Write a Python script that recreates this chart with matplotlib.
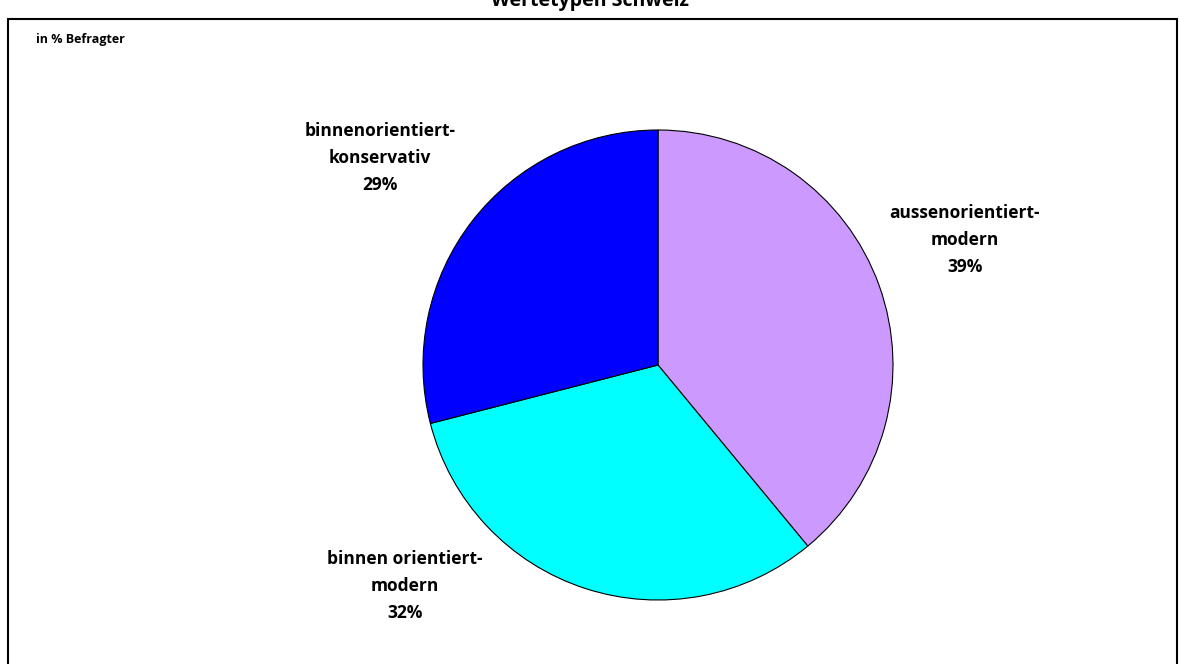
import matplotlib

matplotlib.use("Agg")
import matplotlib.pyplot as plt
from matplotlib.patches import Rectangle

# --- data ---------------------------------------------------------------
categories = ["aussenorientiert-\nmodern", "binnen orientiert-\nmodern", "binnenorientiert-\nkonservativ"]
shares = [39, 32, 29]
colors = ["#CC99FF", "#00FFFF", "#0000FF"]

W, H = 1180, 664
plt.rcParams["font.family"] = ["Open Sans", "DejaVu Sans"]

fig = plt.figure(figsize=(W / 100, H / 100), dpi=100)
ax = fig.add_axes([0, 0, 1, 1])

cx, cy, r = 658, H - 365, 235
ax.pie(
    shares,
    colors=colors,
    startangle=90,
    counterclock=False,
    center=(cx, cy),
    radius=r,
    frame=True,
    wedgeprops={"edgecolor": "black", "linewidth": 0.8},
)
ax.set_xlim(0, W)
ax.set_ylim(0, H)
ax.set_aspect("equal")
ax.axis("off")

# label anchor points (pixel coords from top)
label_pos = [(965, 240), (405, 586), (380, 158)]
for cat, val, (x, y) in zip(categories, shares, label_pos):
    ax.text(
        x, H - y, f"{cat}\n{val}%",
        ha="center", va="center", fontsize=12.5, fontweight="bold",
        linespacing=1.65, color="black",
    )

ax.text(36, H - 40, "in % Befragter", ha="left", va="center",
        fontsize=9, fontweight="bold")
# title sits partly above the top edge, as in the source
ax.text(W / 2, H - 1, "Wertetypen Schweiz", ha="center", va="center",
        fontsize=14, fontweight="bold", clip_on=False)

# chart frame (bottom edge falls outside the image)
ax.add_patch(Rectangle((8, -10), 1169, H - 19 + 10, fill=False,
                       edgecolor="black", linewidth=1.5, clip_on=False))

fig.savefig("out.png", dpi=100)
